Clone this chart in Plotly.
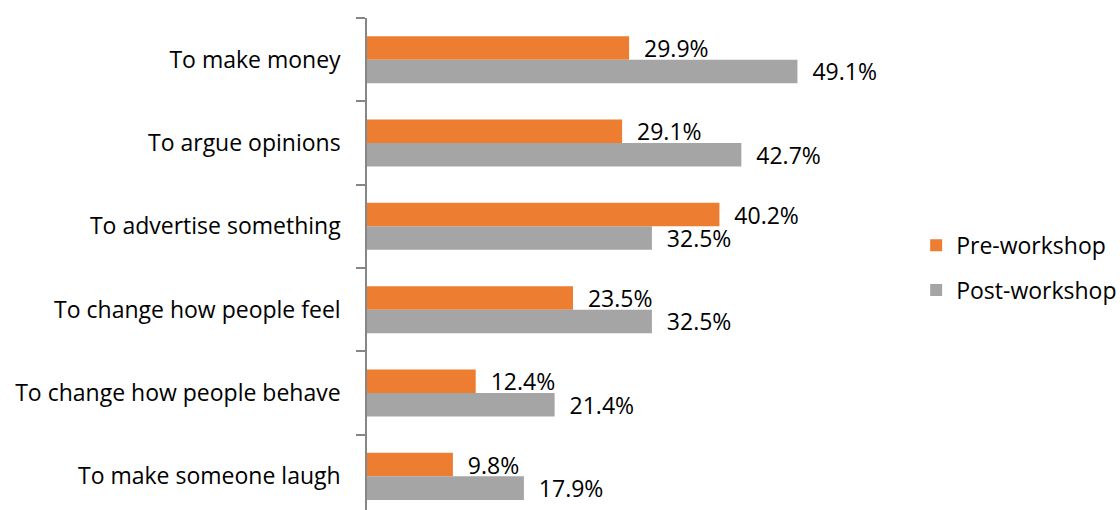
import plotly.graph_objects as go

categories = [
    "To make money",
    "To argue opinions",
    "To advertise something",
    "To change how people feel",
    "To change how people behave",
    "To make someone laugh",
]
pre_workshop = [29.9, 29.1, 40.2, 23.5, 12.4, 9.8]
post_workshop = [49.1, 42.7, 32.5, 32.5, 21.4, 17.9]

ORANGE = "#ED7D31"
GRAY = "#A5A5A5"
FONT = "Open Sans"
SIZE = 23

fig = go.Figure()
for name, vals, color, grp in [
    ("Pre-workshop", pre_workshop, ORANGE, "a"),
    ("Post-workshop", post_workshop, GRAY, "b"),
]:
    fig.add_trace(go.Bar(
        y=categories,
        x=vals,
        name=name,
        orientation="h",
        marker=dict(color=color, line=dict(width=0)),
        text=[f"\u00a0\u00a0{v:.1f}%" for v in vals],
        textposition="outside",
        constraintext="none",
        textfont=dict(family=FONT, size=SIZE, color="#000000"),
        cliponaxis=False,
        legendgroup=grp,
    ))

fig.update_layout(
    width=1120,
    height=510,
    margin=dict(l=367, r=227, t=18, b=0),
    paper_bgcolor="white",
    plot_bgcolor="white",
    barmode="group",
    bargap=0.435,
    bargroupgap=0,
    font=dict(family=FONT, size=SIZE, color="#000000"),
    showlegend=True,
    legend=dict(
        xref="container", yref="container",
        x=0.818, y=0.475, xanchor="left", yanchor="middle",
        font=dict(family=FONT, size=SIZE, color="#000000"),
        tracegroupgap=12,
        itemwidth=30,
        bgcolor="rgba(0,0,0,0)",
    ),
    xaxis=dict(
        range=[0, 60],
        visible=False,
        showgrid=False,
        zeroline=False,
    ),
    yaxis=dict(
        type="category",
        categoryorder="array",
        categoryarray=categories,
        range=[5.404, -0.5],
        showline=True,
        linecolor="#868686",
        linewidth=1.5,
        ticks="outside",
        tickson="boundaries",
        ticklen=9,
        tickcolor="#868686",
        tickwidth=1.5,
        ticklabelstandoff=20,
        showgrid=False,
        zeroline=False,
        tickfont=dict(family=FONT, size=SIZE, color="#000000"),
    ),
)

fig.write_html("out.html")
